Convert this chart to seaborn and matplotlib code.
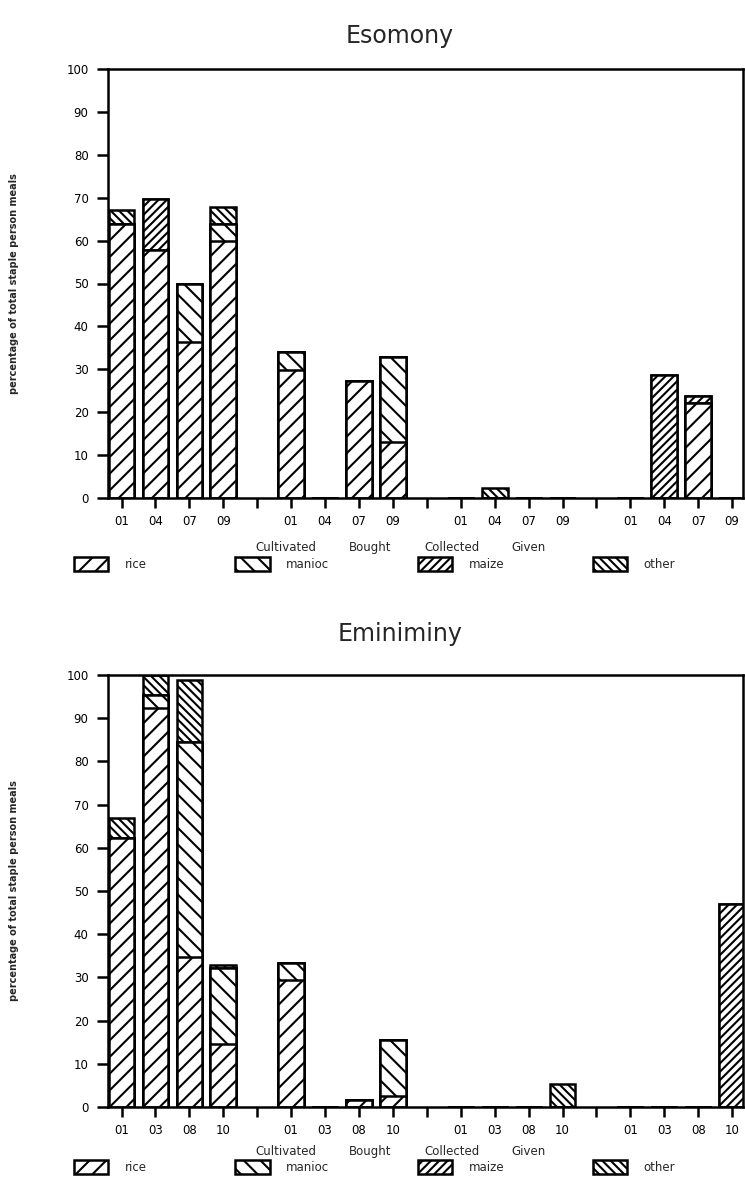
import numpy as np
import pandas as pd
import matplotlib
matplotlib.use("Agg")
import matplotlib.pyplot as plt
from matplotlib.patches import Patch
import seaborn as sns

# ── Data ───────────────────────────────────────────────────────────────────────
SOURCES = ["Cultivated", "Bought", "Collected", "Given"]
STAPLES = ["rice", "manioc", "maize", "other"]
HATCHES = {"rice": "//", "manioc": "\\\\", "maize": "////", "other": "\\\\\\\\"}

ESOMONY_MONTHS = ["01", "04", "07", "09"]
ESOMONY_RICE   = [63.9, 57.8, 36.4, 60.0,  29.8, 0.0, 27.2, 13.1,  0.0, 0.0, 0.0, 0.0,  0.0, 0.0, 22.1, 0.0]
ESOMONY_MANIOC = [0.0, 0.0, 13.5, 3.9,     4.2, 0.0, 0.0, 19.7,    0.0, 0.0, 0.0, 0.0,  0.0, 0.0, 0.0, 0.0]
ESOMONY_MAIZE  = [0.0, 11.8, 0.0, 0.0,     0.0, 0.0, 0.0, 0.0,     0.0, 0.0, 0.0, 0.0,  0.0, 28.7, 1.7, 0.0]
ESOMONY_OTHER  = [3.2, 0.0, 0.0, 3.9,      0.0, 0.0, 0.0, 0.0,     0.0, 2.3, 0.0, 0.0,  0.0, 0.0, 0.0, 0.0]

EMIN_MONTHS = ["01", "03", "08", "10"]
EMIN_RICE   = [62.2, 92.3, 34.7, 14.5,  29.4, 0.0, 1.7, 2.5,   0.0, 0.0, 0.0, 0.0,  0.0, 0.0, 0.0, 0.0]
EMIN_MANIOC = [0.0, 3.1, 49.9, 17.6,    3.9, 0.0, 0.0, 13.1,   0.0, 0.0, 0.0, 0.0,  0.0, 0.0, 0.0, 0.0]
EMIN_MAIZE  = [0.0, 0.0, 0.0, 0.0,      0.0, 0.0, 0.0, 0.0,    0.0, 0.0, 0.0, 0.0,  0.0, 0.0, 0.0, 47.0]
EMIN_OTHER  = [4.6, 4.6, 14.2, 0.8,     0.0, 0.0, 0.0, 0.0,    0.0, 0.0, 0.0, 5.4,  0.0, 0.0, 0.0, 0.0]

# ── Style ──────────────────────────────────────────────────────────────────────
sns.set_theme(style="ticks")
plt.rcParams.update({
    "font.family": ["DejaVu Sans"],
    "hatch.linewidth": 1.5,
    "hatch.color": "black",
    "axes.edgecolor": "black",
    "axes.linewidth": 1.8,
    "xtick.color": "black",
    "ytick.color": "black",
})

W, H = 745, 1178
fig = plt.figure(figsize=(W / 100, H / 100), dpi=100)


def positions():
    # 4 bars per source, one empty slot between sources
    pos = []
    for g in range(len(SOURCES)):
        pos += [g * 5 + i for i in range(4)]
    return pos


def draw_panel(rect, title, months, rice, manioc, maize, other, title_y, text_y):
    ax = fig.add_axes(rect)
    df = pd.DataFrame({"pos": positions(), "rice": rice, "manioc": manioc,
                       "maize": maize, "other": other})
    # cumulative tops, drawn top layer first so lower layers cover them
    df["c_rice"] = df["rice"]
    df["c_manioc"] = df["c_rice"] + df["manioc"]
    df["c_maize"] = df["c_manioc"] + df["maize"]
    df["c_other"] = df["c_maize"] + df["other"]
    for s in reversed(STAPLES):
        sns.barplot(data=df, x="pos", y=f"c_{s}", native_scale=True, width=0.76,
                    color="white", saturation=1, edgecolor="black", linewidth=1.8,
                    hatch=HATCHES[s], errorbar=None, ax=ax, zorder=2)

    ticks = list(range(19))
    labels = [months[t % 5] if t % 5 < 4 else "" for t in ticks]
    ax.set_xticks(ticks)
    ax.set_xticklabels(labels, fontsize=8.5)
    ax.set_xlim(-0.4, 18.32)
    ax.set_ylim(0, 100)
    ax.set_yticks(range(0, 101, 10))
    ax.tick_params(axis="y", labelsize=8.5, length=8, width=1.8, pad=6)
    ax.tick_params(axis="x", length=7, width=1.8, pad=5)
    ax.set_xlabel("")
    ax.set_ylabel("percentage of total staple person meals", fontsize=7, fontweight="bold")
    ax.yaxis.set_label_coords(-0.14, 0.5)
    for sp in ax.spines.values():
        sp.set_visible(True)
        sp.set_linewidth(1.8)

    fig.text(400 / W, 1 - title_y / H, title, ha="center", va="center", fontsize=17)

    # source group labels
    for name, xc in zip(SOURCES, [286, 370, 452, 529]):
        fig.text(xc / W, 1 - text_y / H, name, ha="center", va="baseline", fontsize=8.5)
    return ax


draw_panel([108 / W, 1 - 498 / H, 635 / W, 429 / H], "Esomony", ESOMONY_MONTHS,
           ESOMONY_RICE, ESOMONY_MANIOC, ESOMONY_MAIZE, ESOMONY_OTHER, 36, 551)
draw_panel([108 / W, 1 - 1107 / H, 635 / W, 432 / H], "Eminiminy", EMIN_MONTHS,
           EMIN_RICE, EMIN_MANIOC, EMIN_MAIZE, EMIN_OTHER, 634, 1155)

# ── Legends ────────────────────────────────────────────────────────────────────
handles = [Patch(facecolor="white", edgecolor="black", linewidth=1.8, hatch=HATCHES[s], label=s)
           for s in STAPLES]
for ly in [564, 1167]:
    fig.legend(handles=handles, loc="center left", bbox_to_anchor=(74 / W, 1 - ly / H),
               ncol=4, frameon=False, fontsize=8.5, handlelength=2.9, handleheight=1.5,
               handletextpad=1.4, columnspacing=7.5, borderpad=0, borderaxespad=0)

fig.savefig("out.png", dpi=100)
